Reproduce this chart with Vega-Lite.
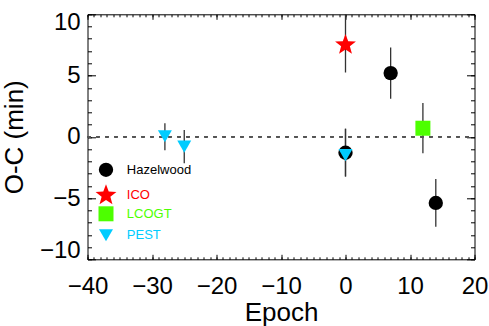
{
  "$schema": "https://vega.github.io/schema/vega-lite/v6.json",
  "width": 387,
  "height": 245,
  "autosize": "none",
  "padding": {"left": 87.5, "top": 14.3, "right": 14.5, "bottom": 66.7},
  "data": {
    "values": [
      {"source": "Hazelwood", "epoch": 0, "oc": -1.3, "lo": -3.25, "hi": 0.65},
      {"source": "Hazelwood", "epoch": 7, "oc": 5.2, "lo": 3.1, "hi": 7.3},
      {"source": "Hazelwood", "epoch": 14, "oc": -5.4, "lo": -7.35, "hi": -3.45},
      {"source": "ICO", "epoch": 0, "oc": 7.5, "lo": 5.25, "hi": 10.5},
      {"source": "LCOGT", "epoch": 12, "oc": 0.7, "lo": -1.35, "hi": 2.75},
      {"source": "PEST", "epoch": -28, "oc": 0.05, "lo": -1.1, "hi": 1.1},
      {"source": "PEST", "epoch": -25, "oc": -0.8, "lo": -2.15, "hi": 0.55},
      {"source": "PEST", "epoch": 0, "oc": -1.5, "lo": -3.25, "hi": 0.65}
    ]
  },
  "layer": [
    {
      "mark": {"type": "rule", "color": "#333333", "strokeWidth": 1.3, "clip": true},
      "encoding": {
        "x": {
          "field": "epoch", "type": "quantitative",
          "scale": {"domain": [-40, 20], "nice": false, "zero": false},
          "axis": {
            "orient": "bottom", "values": [-40, -30, -20, -10, 0, 10, 20],
            "tickSize": 5, "offset": -5, "labelPadding": 15.5, "labelFontSize": 24, "labelFlush": false,
            "title": "Epoch", "titleFontSize": 26, "titlePadding": 1
          }
        },
        "y": {
          "field": "lo", "type": "quantitative",
          "scale": {"domain": [-10, 10], "nice": false, "zero": false},
          "axis": {
            "orient": "left", "values": [-10, -5, 0, 5, 10],
            "tickSize": 8, "offset": -8, "labelPadding": 7.3, "labelFontSize": 24,
            "labelFlush": true, "labelFlushOffset": 3.5,
            "title": "O-C (min)", "titleFontSize": 26, "titlePadding": 12
          }
        },
        "y2": {"field": "oc"}
      }
    },
    {
      "mark": {"type": "rule", "color": "#333333", "strokeWidth": 1.3, "clip": true},
      "encoding": {
        "x": {
          "field": "epoch", "type": "quantitative",
          "scale": {"domain": [-40, 20], "nice": false, "zero": false},
          "axis": {"orient": "bottom", "tickCount": 60, "labels": false, "title": null, "tickSize": 2.5, "offset": -2.5}
        },
        "y": {
          "field": "oc", "type": "quantitative",
          "scale": {"domain": [-10, 10], "nice": false, "zero": false},
          "axis": {"orient": "left", "tickCount": 20, "labels": false, "title": null, "tickSize": 4, "offset": -4}
        },
        "y2": {"field": "hi"}
      }
    },
    {
      "mark": {"type": "rule", "color": "#555555", "strokeWidth": 1.5, "strokeDash": [3, 6]},
      "encoding": {
        "x": {
          "datum": -40, "type": "quantitative",
          "scale": {"domain": [-40, 20], "nice": false, "zero": false},
          "axis": {"orient": "top", "values": [-40, -30, -20, -10, 0, 10, 20], "labels": false, "title": null, "tickSize": 5, "offset": -5}
        },
        "x2": {"datum": 20},
        "y": {
          "datum": 0, "type": "quantitative",
          "scale": {"domain": [-10, 10], "nice": false, "zero": false},
          "axis": {"orient": "right", "values": [-10, -5, 0, 5, 10], "labels": false, "title": null, "tickSize": 8, "offset": -8}
        }
      }
    },
    {
      "mark": {"type": "point", "filled": true, "opacity": 1, "strokeWidth": 0},
      "encoding": {
        "x": {
          "field": "epoch", "type": "quantitative",
          "scale": {"domain": [-40, 20], "nice": false, "zero": false},
          "axis": {"orient": "top", "tickCount": 60, "labels": false, "title": null, "tickSize": 2.5, "offset": -2.5}
        },
        "y": {
          "field": "oc", "type": "quantitative",
          "scale": {"domain": [-10, 10], "nice": false, "zero": false},
          "axis": {"orient": "right", "tickCount": 20, "labels": false, "title": null, "tickSize": 4, "offset": -4}
        },
        "color": {
          "field": "source", "type": "nominal",
          "scale": {"domain": ["Hazelwood", "ICO", "LCOGT", "PEST"], "range": ["#000000", "#ff0000", "#4dff00", "#00ccff"]},
          "legend": {
            "title": null, "orient": "none", "legendX": 7.5, "legendY": 148,
            "padding": 0, "rowPadding": 2, "labelOffset": 9.8, "gridAlign": "all",
            "labelFont": "Liberation Sans", "labelFontSize": 13,
            "symbolOpacity": 1, "symbolStrokeWidth": 0,
            "encode": {"labels": {"update": {"fill": {"scale": "color", "field": "value"}}}}
          }
        },
        "shape": {
          "field": "source", "type": "nominal",
          "scale": {"domain": ["Hazelwood", "ICO", "LCOGT", "PEST"], "range": ["circle", "M0,-1L0.247,-0.34L0.951,-0.309L0.399,0.13L0.588,0.809L0,0.42L-0.588,0.809L-0.399,0.13L-0.951,-0.309L-0.247,-0.34Z", "square", "triangle-down"]}
        },
        "size": {
          "field": "source", "type": "nominal",
          "scale": {"type": "ordinal", "domain": ["Hazelwood", "ICO", "LCOGT", "PEST"], "range": [205, 480, 225, 196]}
        }
      }
    }
  ],
  "resolve": {"axis": {"x": "independent", "y": "independent"}},
  "config": {
    "view": {"stroke": "#000000", "strokeWidth": 1},
    "axis": {
      "grid": false, "domain": false, "ticks": true, "tickColor": "#000000", "tickWidth": 1,
      "labelColor": "#000000", "titleColor": "#000000",
      "labelFont": "Liberation Sans", "titleFont": "Liberation Sans", "titleFontWeight": "normal"
    }
  }
}
